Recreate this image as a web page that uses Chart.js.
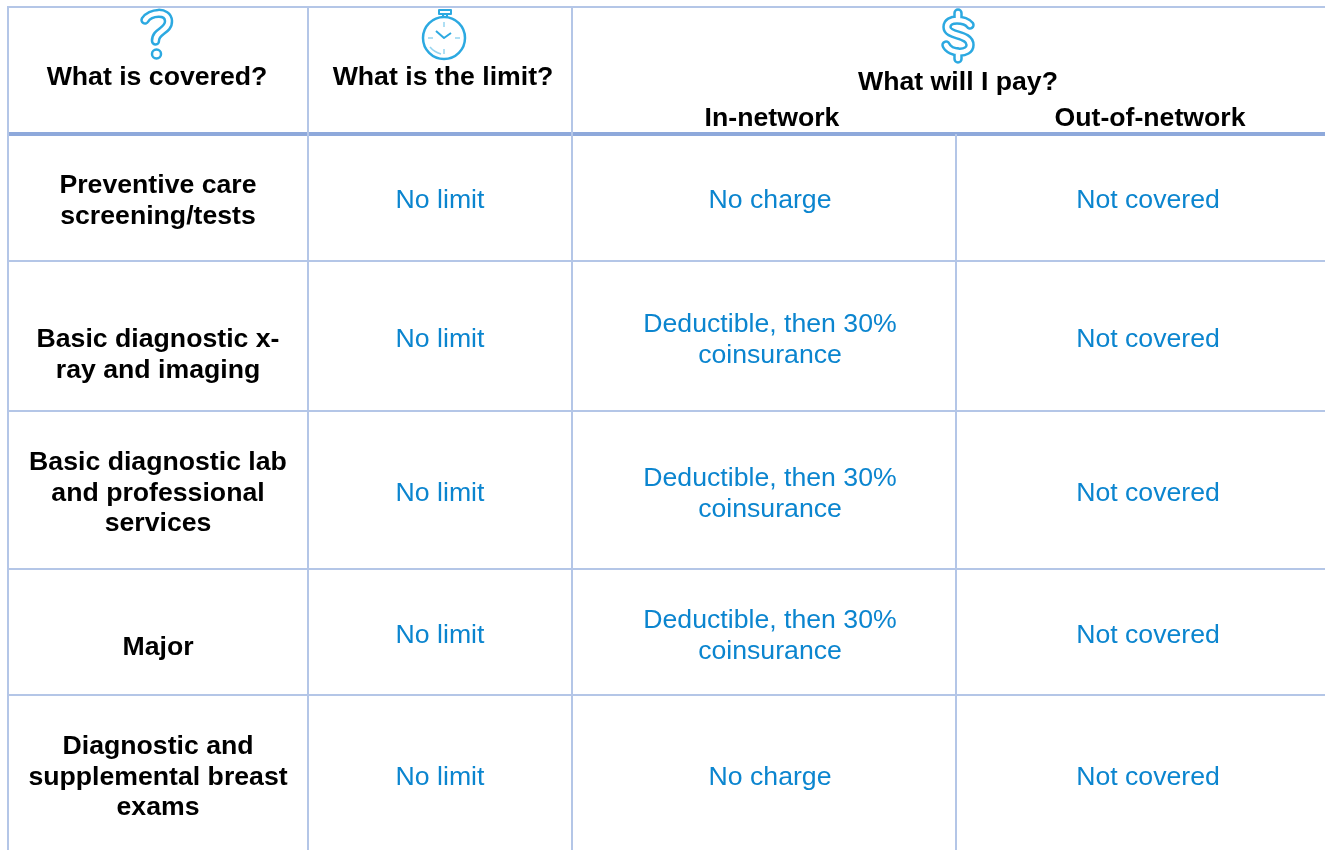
<!DOCTYPE html>
<html>
<head>
<meta charset="utf-8">
<style>
    html, body { margin: 0; padding: 0; background: #fff; overflow: hidden; }
    #myChart { display: block; }
</style>
</head>
<body>
<canvas id="myChart" width="1325" height="850"></canvas>
<script src="https://cdn.jsdelivr.net/npm/chart.js@4/dist/chart.umd.min.js"></script>
<script>
    // table content
    const headers = ["What is covered?", "What is the limit?", "What will I pay?"];
    const subHeaders = ["In-network", "Out-of-network"];
    const categories = [
        ["Preventive care", "screening/tests"],
        ["Basic diagnostic x-", "ray and imaging"],
        ["Basic diagnostic lab", "and professional", "services"],
        ["Major"],
        ["Diagnostic and", "supplemental breast", "exams"]
    ];
    const limits = ["No limit", "No limit", "No limit", "No limit", "No limit"];
    const inNetwork = [
        ["No charge"],
        ["Deductible, then 30%", "coinsurance"],
        ["Deductible, then 30%", "coinsurance"],
        ["Deductible, then 30%", "coinsurance"],
        ["No charge"]
    ];
    const outNetwork = ["Not covered", "Not covered", "Not covered", "Not covered", "Not covered"];

    // layout, in page pixels
    const colEdges = [8, 308, 572, 956, 1325];
    const rowEdges = [134, 261, 411, 569, 695, 850];
    const colCenters = [158, 440, 770, 1148];
    const categoryBase = [193, 347, 470, 655, 754];
    const valueBase = [208, 347, 501, 643, 785];
    const inNetworkBase = [208, 332, 486, 628, 785];
    const lineStep = 30.7;

    const thinColor = "#B4C6E7";
    const thickColor = "#8EA9DB";
    const textBlue = "#0B85CF";
    const iconBlue = "#2CA9E1";

    function rule(x1, y1, x2, y2, color, width) {
        return {
            data: [{ x: x1, y: y1 }, { x: x2, y: y2 }],
            showLine: true, pointRadius: 0, borderColor: color, borderWidth: width,
            borderCapStyle: "butt", order: 1
        };
    }

    const rules = [
        rule(colEdges[0] - 1, 7, 1325, 7, thinColor, 2),
        rule(colEdges[0], 7, colEdges[0], 850, thinColor, 2),
        rule(colEdges[1], 7, colEdges[1], 850, thinColor, 2),
        rule(colEdges[2], 7, colEdges[2], 850, thinColor, 2),
        rule(colEdges[3], rowEdges[0], colEdges[3], 850, thinColor, 2)
    ];
    rowEdges.slice(1, 5).forEach(y => rules.push(rule(colEdges[0], y, 1325, y, thinColor, 2)));
    rules.push(rule(colEdges[0] - 1, rowEdges[0], 1325, rowEdges[0], thickColor, 4));

    function drawLines(ctx, x, y, lines) {
        lines.forEach((t, i) => ctx.fillText(t, x, y + i * lineStep));
    }

    // outlined icon: a fat blue stroke with a thin white one on top
    function outlined(ctx, tracePath) {
        ctx.lineCap = "round";
        ctx.lineJoin = "round";
        ctx.beginPath();
        tracePath();
        ctx.strokeStyle = iconBlue;
        ctx.lineWidth = 9.5;
        ctx.stroke();
        ctx.strokeStyle = "#fff";
        ctx.lineWidth = 4.5;
        ctx.stroke();
    }

    const tablePlugin = {
        id: "tablePlugin",
        afterDatasetsDraw(chart) {
            const ctx = chart.ctx, sx = chart.scales.x, sy = chart.scales.y;
            const X = v => sx.getPixelForValue(v), Y = v => sy.getPixelForValue(v);
            ctx.save();
            ctx.textAlign = "center";
            ctx.textBaseline = "alphabetic";

            ctx.fillStyle = "#000";
            ctx.font = "bold 26.67px 'Liberation Sans', Arial, sans-serif";
            ctx.fillText(headers[0], X(colCenters[0] - 1), Y(85));
            ctx.fillText(headers[1], X(colCenters[1] + 3), Y(85));
            ctx.fillText(headers[2], X(958), Y(90));
            ctx.fillText(subHeaders[0], X(colCenters[2] + 2), Y(126));
            ctx.fillText(subHeaders[1], X(colCenters[3] + 2), Y(126));
            categories.forEach((c, i) => drawLines(ctx, X(colCenters[0]), Y(categoryBase[i]), c));

            ctx.fillStyle = textBlue;
            ctx.font = "26.67px 'Liberation Sans', Arial, sans-serif";
            limits.forEach((t, i) => ctx.fillText(t, X(colCenters[1]), Y(valueBase[i])));
            inNetwork.forEach((c, i) => drawLines(ctx, X(colCenters[2]), Y(inNetworkBase[i]), c));
            outNetwork.forEach((t, i) => ctx.fillText(t, X(colCenters[3]), Y(valueBase[i])));

            // icons above the header labels
            ctx.filter = "blur(0.7px)";
            outlined(ctx, () => {
                ctx.moveTo(X(145), Y(20));
                ctx.bezierCurveTo(X(150), Y(12), X(168), Y(10), X(168.5), Y(21));
                ctx.bezierCurveTo(X(169), Y(31), X(155), Y(31), X(155.5), Y(41));
            });
            ctx.strokeStyle = iconBlue;
            ctx.lineWidth = 2.5;
            ctx.beginPath();
            ctx.arc(X(156.5), Y(54), 4.5, 0, Math.PI * 2);
            ctx.stroke();

            outlined(ctx, () => {
                ctx.moveTo(X(958), Y(13)); ctx.lineTo(X(958), Y(20));
                ctx.moveTo(X(970), Y(25));
                ctx.bezierCurveTo(X(966), Y(19), X(947), Y(17), X(947), Y(27));
                ctx.bezierCurveTo(X(947), Y(37), X(970), Y(33), X(970), Y(45));
                ctx.bezierCurveTo(X(970), Y(55), X(950), Y(54), X(946), Y(45));
                ctx.moveTo(X(958), Y(52)); ctx.lineTo(X(958), Y(59));
            });

            ctx.strokeStyle = iconBlue;
            ctx.lineCap = "butt";
            ctx.lineWidth = 2.5;
            ctx.beginPath();
            ctx.arc(X(444), Y(38), 21, 0, Math.PI * 2);
            ctx.stroke();
            ctx.lineWidth = 2;
            ctx.strokeRect(X(439), Y(10), 12, 4);
            ctx.beginPath();
            ctx.moveTo(X(443), Y(14)); ctx.lineTo(X(443), Y(17));
            ctx.moveTo(X(447), Y(14)); ctx.lineTo(X(447), Y(17));
            ctx.moveTo(X(436), Y(31)); ctx.lineTo(X(444), Y(38)); ctx.lineTo(X(451), Y(33));
            ctx.stroke();
            ctx.lineWidth = 1.5;
            ctx.globalAlpha = 0.5;
            ctx.beginPath();
            ctx.moveTo(X(444), Y(22)); ctx.lineTo(X(444), Y(27));
            ctx.moveTo(X(444), Y(49)); ctx.lineTo(X(444), Y(54));
            ctx.moveTo(X(428), Y(38)); ctx.lineTo(X(433), Y(38));
            ctx.moveTo(X(455), Y(38)); ctx.lineTo(X(460), Y(38));
            ctx.moveTo(X(430), Y(47)); ctx.quadraticCurveTo(X(434), Y(52), X(441), Y(54));
            ctx.stroke();
            ctx.restore();
        }
    };

    const myChart = new Chart(document.getElementById("myChart").getContext("2d"), {
        type: "scatter",
        data: { datasets: rules },
        options: {
            responsive: false,
            animation: false,
            layout: { padding: 0 },
            plugins: { legend: { display: false }, tooltip: { enabled: false } },
            scales: {
                x: { type: "linear", min: 0, max: 1325, display: false },
                y: { type: "linear", min: 0, max: 850, reverse: true, display: false }
            }
        },
        plugins: [tablePlugin]
    });
</script>
</body>
</html>
